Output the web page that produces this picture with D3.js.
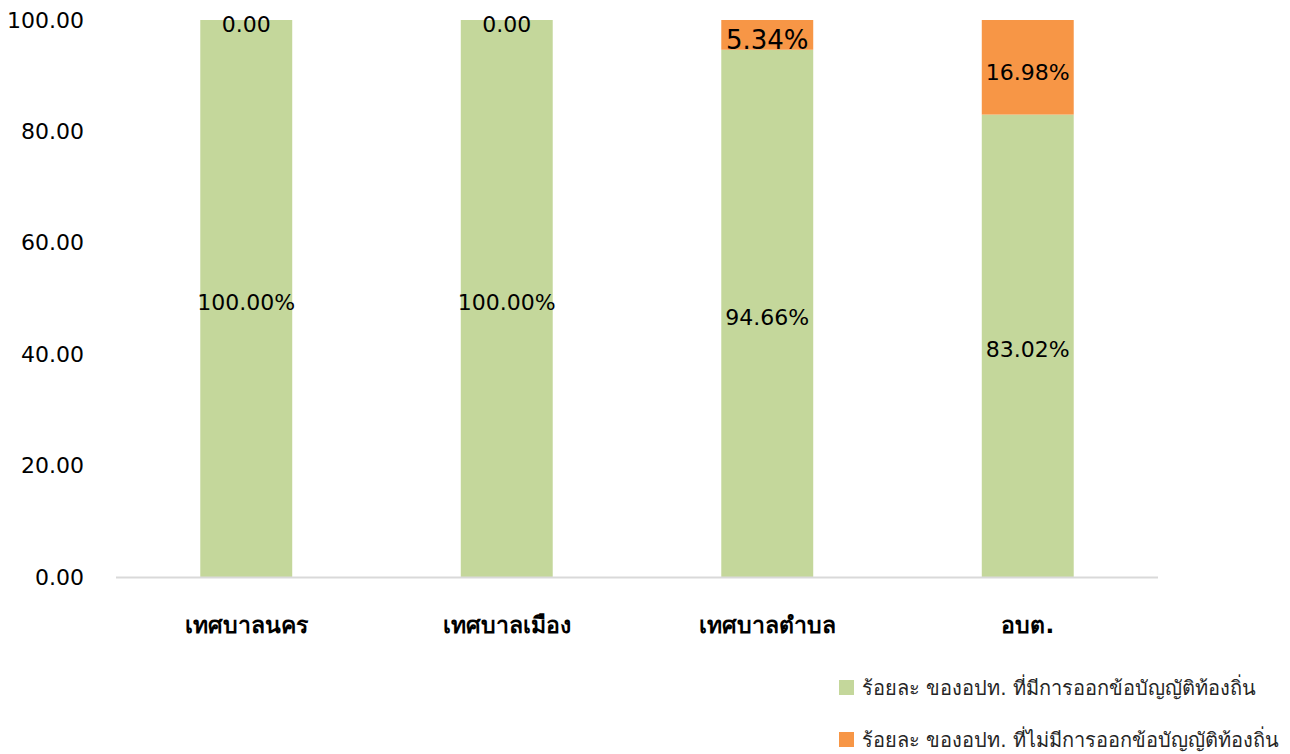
<!DOCTYPE html>
<html>
<head>
<meta charset="utf-8">
<script src="https://cdn.jsdelivr.net/npm/d3@7"></script>
<style>
  body { margin: 0; background: #fff; }
  text { font-family: "DejaVu Sans", "Noto Sans", sans-serif; }
</style>
</head>
<body>
<svg id="chart" width="1290" height="754"></svg>
<script>
// categories and series
var categories = ["เทศบาลนคร", "เทศบาลเมือง", "เทศบาลตำบล", "อบต."];
var withLaw = [100.00, 100.00, 94.66, 83.02];
var withoutLaw = [0.00, 0.00, 5.34, 16.98];
var seriesNames = ["ร้อยละ ของอปท. ที่มีการออกข้อบัญญัติท้องถิ่น", "ร้อยละ ของอปท. ที่ไม่มีการออกข้อบัญญัติท้องถิ่น"];
var yTicks = [0, 20, 40, 60, 80, 100];
var colors = ["#C4D79B", "#F79646"];

var svg = d3.select("#chart");
var plotLeft = 116, plotRight = 1158, plotTop = 20, plotBottom = 577;

var x = d3.scaleBand().domain(categories).range([plotLeft, plotRight]).paddingInner(0.647).paddingOuter(0.3235);
var y = d3.scaleLinear().domain([0, 100]).range([plotBottom, plotTop]);

// y ticks
var yAxis = d3.axisLeft(y).tickValues(yTicks).tickFormat(d3.format(".2f")).tickSize(0).tickPadding(0);
var yg = svg.append("g").attr("transform", "translate(84,0)").call(yAxis);
yg.select(".domain").remove();
yg.selectAll("text").attr("font-size", 22).attr("fill", "#000").attr("font-family", "DejaVu Sans");

var data = categories.map(function(c, i) {
  return { cat: c, a: withLaw[i], b: withoutLaw[i] };
});

// green
svg.selectAll("rect.a").data(data).enter().append("rect")
  .attr("class", "a")
  .attr("x", function(d) { return x(d.cat); })
  .attr("width", x.bandwidth())
  .attr("y", function(d) { return y(d.a); })
  .attr("height", function(d) { return y(0) - y(d.a); })
  .attr("fill", colors[0]);

// orange
svg.selectAll("rect.b").data(data).enter().append("rect")
  .attr("class", "b")
  .attr("x", function(d) { return x(d.cat); })
  .attr("width", x.bandwidth())
  .attr("y", function(d) { return y(d.a + d.b); })
  .attr("height", function(d) { return y(d.a) - y(d.a + d.b); })
  .attr("fill", colors[1]);

// x axis line
svg.append("line").attr("x1", plotLeft).attr("x2", plotRight).attr("y1", plotBottom + 0.5).attr("y2", plotBottom + 0.5)
  .attr("stroke", "#d9d9d9").attr("stroke-width", 2);

// labels
function fmt(v) { return v === 0 ? "0.00" : v.toFixed(2) + "%"; }
svg.selectAll("text.la").data(data).enter().append("text")
  .attr("x", function(d) { return x(d.cat) + x.bandwidth() / 2; })
  .attr("y", function(d) { return (y(d.a) + y(0)) / 2 + 4; })
  .attr("text-anchor", "middle").attr("dominant-baseline", "central")
  .attr("font-size", 22).text(function(d) { return fmt(d.a); });

// the label of the third bar is drawn larger in the original
svg.selectAll("text.lb").data(data).enter().append("text")
  .attr("x", function(d) { return x(d.cat) + x.bandwidth() / 2; })
  .attr("y", function(d) { return d.b === 0 ? y(d.a) + 4 : (y(d.a) + y(d.a + d.b)) / 2 + 5; })
  .attr("text-anchor", "middle").attr("dominant-baseline", "central")
  .attr("font-size", function(d, i) { return i === 2 ? 26 : 22; })
  .text(function(d) { return fmt(d.b); });

// x labels
svg.selectAll("text.cat").data(categories).enter().append("text")
  .attr("x", function(d) { return x(d) + x.bandwidth() / 2; })
  .attr("y", 633)
  .attr("text-anchor", "middle").attr("font-size", 23).attr("font-weight", "bold")
  .text(function(d) { return d; });

// legend
var lg = svg.selectAll("g.leg").data(seriesNames).enter().append("g")
  .attr("transform", function(d, i) { return "translate(839," + (680 + i * 52) + ")"; });
lg.append("rect").attr("width", 15).attr("height", 15).attr("fill", function(d, i) { return colors[i]; });
lg.append("text").attr("x", 23).attr("y", 8).attr("dominant-baseline", "central")
  .attr("font-size", 20).attr("fill", "#262626").text(function(d) { return d; });
</script>
</body>
</html>
